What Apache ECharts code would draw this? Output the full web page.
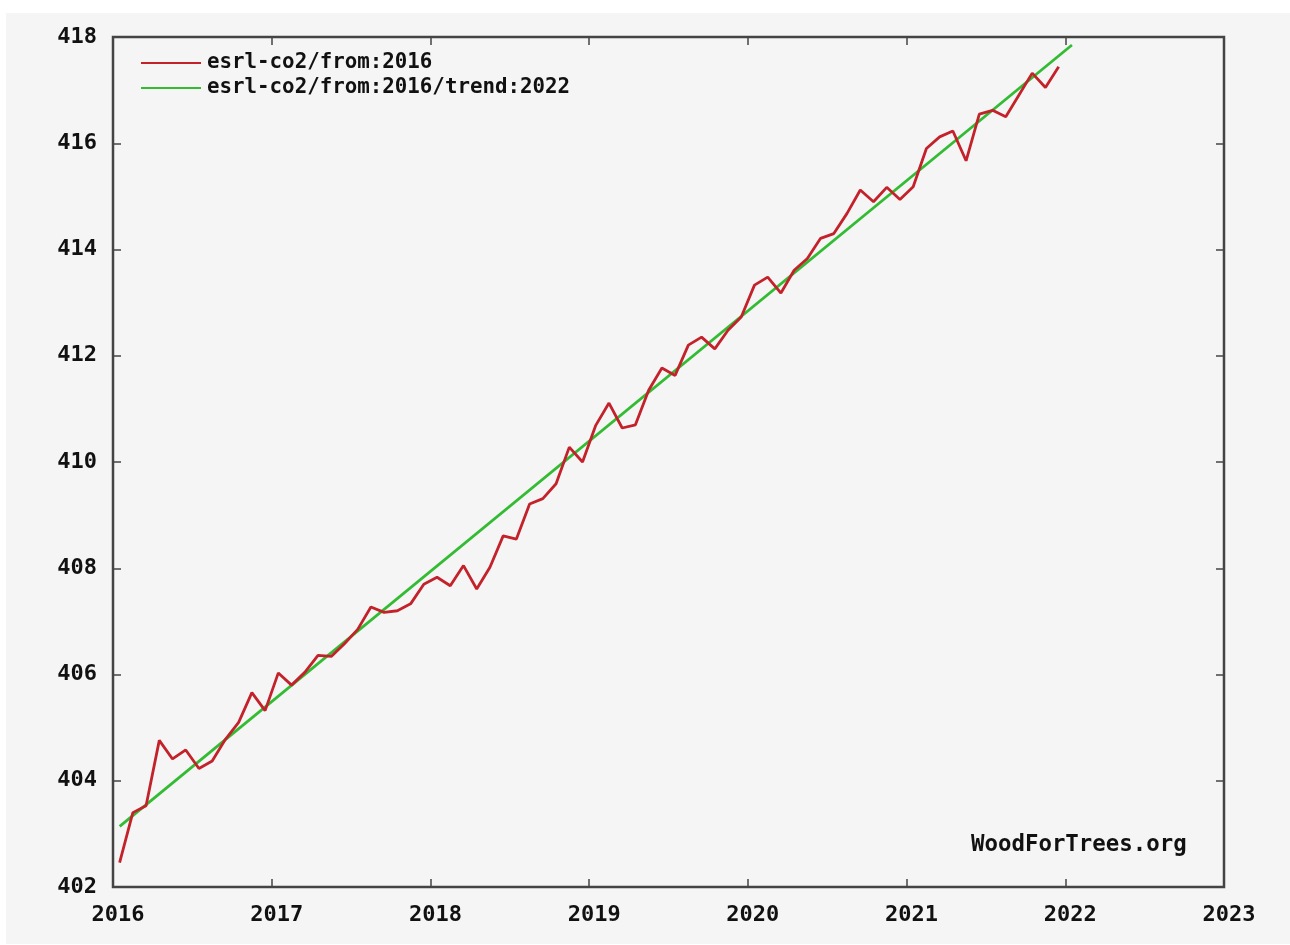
<!DOCTYPE html>
<html>
<head>
<meta charset="utf-8">
<script src="https://cdn.jsdelivr.net/npm/echarts@6/dist/echarts.min.js"></script>
<style>
html,body{margin:0;padding:0;background:#ffffff;}
#c{width:1290px;height:945px;}
</style>
</head>
<body>
<div id="c"></div>
<script>
// Monthly values, Jan 2016 .. Dec 2021 (ppm)
const co2_2016 = [402.46, 403.40, 403.53, 404.76, 404.41, 404.58, 404.23, 404.37, 404.78, 405.10, 405.66, 405.32];
const co2_2017 = [406.03, 405.80, 406.04, 406.36, 406.34, 406.58, 406.85, 407.27, 407.17, 407.20, 407.33, 407.70];
const co2_2018 = [407.83, 407.67, 408.05, 407.61, 408.02, 408.61, 408.55, 409.21, 409.31, 409.59, 410.28, 410.00];
const co2_2019 = [410.69, 411.11, 410.64, 410.70, 411.35, 411.77, 411.63, 412.20, 412.35, 412.13, 412.48, 412.73];
const co2_2020 = [413.33, 413.48, 413.18, 413.61, 413.83, 414.21, 414.30, 414.68, 415.12, 414.90, 415.17, 414.94];
const co2_2021 = [415.18, 415.90, 416.12, 416.23, 415.67, 416.55, 416.62, 416.50, 416.91, 417.32, 417.05, 417.44];
const years = [2016, 2017, 2018, 2019, 2020, 2021];
// Linear trend end points
const trendX = [2016.042, 2022.042];
const trendY = [403.14, 417.85];
const seriesNames = ['esrl-co2/from:2016', 'esrl-co2/from:2016/trend:2022'];

const allYears = [co2_2016, co2_2017, co2_2018, co2_2019, co2_2020, co2_2021];
const redData = [];
allYears.forEach((arr, yi) => {
  arr.forEach((v, m) => redData.push([years[yi] + (m + 0.5) / 12, v]));
});
const greenData = trendX.map((x, i) => [x, trendY[i]]);

const FONT = '"DejaVu Sans Mono", "Liberation Mono", monospace';
const chart = echarts.init(document.getElementById('c'));
const axisCommonX = {
  type: 'value', min: 2016, max: 2023, interval: 1,
  axisLine: {show: false},
  splitLine: {show: false},
  axisTick: {show: true, inside: true, length: 8, lineStyle: {color: '#444', width: 1.5}}
};
const axisCommonY = {
  type: 'value', min: 402, max: 418, interval: 2,
  axisLine: {show: false},
  splitLine: {show: false},
  axisTick: {show: true, inside: true, length: 8, lineStyle: {color: '#444', width: 1.5}}
};
chart.setOption({
  backgroundColor: '#ffffff',
  animation: false,
  graphic: [
    {type: 'rect', z: -10, shape: {x: 6, y: 13, width: 1284, height: 931}, style: {fill: '#f5f5f5'}},
    {type: 'text', left: 971, top: 834, z: 10,
     style: {text: 'WoodForTrees.org', font: 'bold 22.4px ' + FONT, fill: '#111'}}
  ],
  grid: {left: 113, right: 66, top: 37, bottom: 58, show: true, borderColor: '#444', borderWidth: 2.5, backgroundColor: 'transparent'},
  legend: {
    show: true, orient: 'vertical', left: 136, top: 46,
    icon: 'rect', itemWidth: 60, itemHeight: 2, itemGap: 1,
    data: [seriesNames[0], seriesNames[1]],
    textStyle: {fontFamily: FONT, fontWeight: 'bold', fontSize: 20.8, color: '#111', lineHeight: 24, padding: [0, 0, 0, 1]}
  },
  xAxis: [
    Object.assign({}, axisCommonX, {position: 'bottom',
      axisLabel: {show: true, margin: 17, color: '#111', fontFamily: FONT, fontWeight: 'bold', fontSize: 22, padding: [0, 0, 0, 10],
        formatter: v => String(v)}}),
    Object.assign({}, axisCommonX, {position: 'top', axisLabel: {show: false}})
  ],
  yAxis: [
    Object.assign({}, axisCommonY, {position: 'left',
      axisLabel: {show: true, margin: 16, color: '#111', fontFamily: FONT, fontWeight: 'bold', fontSize: 22, padding: [4, 0, 0, 0],
        formatter: v => String(v)}}),
    Object.assign({}, axisCommonY, {position: 'right', axisLabel: {show: false}})
  ],
  series: [
    {name: seriesNames[1], type: 'line', data: greenData, showSymbol: false, symbol: 'none', z: 2,
     lineStyle: {color: '#33bb33', width: 2.8}, itemStyle: {color: '#33bb33'}},
    {name: seriesNames[0], type: 'line', data: redData, showSymbol: false, symbol: 'none', z: 3,
     lineStyle: {color: '#c3222b', width: 2.8}, itemStyle: {color: '#c3222b'}}
  ]
});
</script>
</body>
</html>
